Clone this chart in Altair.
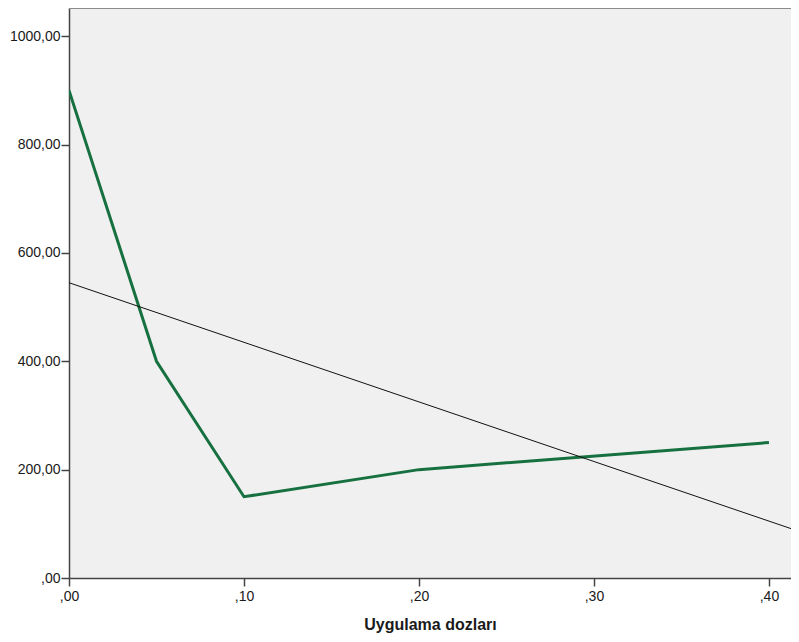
import altair as alt
import pandas as pd

doses = [0.0, 0.05, 0.10, 0.20, 0.40]
values = [900, 400, 150, 200, 250]
x_ticks = [0.0, 0.1, 0.2, 0.3, 0.4]
y_ticks = [0, 200, 400, 600, 800, 1000]
x_max = 0.4126
y_max = 1052

df = pd.DataFrame({"doz": doses, "deger": values})

xs = alt.Scale(domain=[0, x_max], nice=False, zero=False)
ys = alt.Scale(domain=[0, y_max], nice=False)

x_axis = alt.Axis(
    values=x_ticks,
    labelExpr="replace(format(datum.value, '.2f'), '0.', ',')",
    title="Uygulama dozları",
    titleFont="Liberation Sans", titleFontSize=16, titleFontWeight="bold",
    titleColor="#1a1a1a", titlePadding=13,
    labelFont="Liberation Sans", labelFontSize=14, labelColor="#1a1a1a",
    tickSize=8, tickColor="#444444", domainColor="#444444", domainWidth=1.5,
    tickWidth=1.5, grid=False, labelPadding=3, labelFlush=False,
)
y_axis = alt.Axis(
    values=y_ticks,
    labelExpr="datum.value == 0 ? ',00' : replace(format(datum.value, '.2f'), '.', ',')",
    title=None,
    labelFont="Liberation Sans", labelFontSize=14, labelColor="#1a1a1a",
    tickSize=8, tickColor="#444444", domainColor="#444444", domainWidth=1.5,
    tickWidth=1.5, grid=False, labelPadding=1, labelFlush=False,
)

base = alt.Chart(df)

line = base.mark_line(color="#17703f", strokeWidth=3, clip=True).encode(
    x=alt.X("doz:Q", scale=xs, axis=x_axis),
    y=alt.Y("deger:Q", scale=ys, axis=y_axis),
)

fit = base.transform_regression("doz", "deger", extent=[0, x_max]).mark_line(
    color="#111111", strokeWidth=1, clip=True
).encode(
    x=alt.X("doz:Q", scale=xs),
    y=alt.Y("deger:Q", scale=ys),
)

top_border = alt.Chart(pd.DataFrame({"k": [0]})).mark_rule(
    color="#8c8c8c", strokeWidth=2
).encode(x=alt.value(0), x2=alt.value(722), y=alt.value(0))

chart = (
    alt.layer(line, fit, top_border)
    .properties(
        width=722, height=570,
        autosize=alt.AutoSizeParams(type="none"),
        padding={"left": 61, "top": 0, "right": 0, "bottom": 56},
        background="white",
    )
    .configure_view(fill="#f0f0f0", strokeWidth=0)
)

chart.save("out.html", embed_options={"renderer": "svg", "actions": False})
